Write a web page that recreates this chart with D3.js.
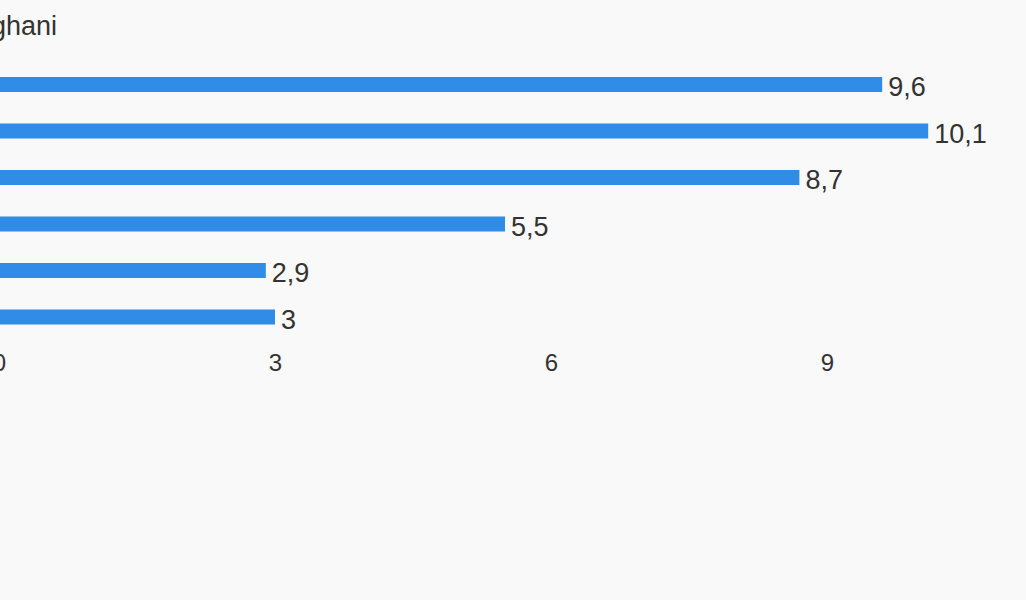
<!DOCTYPE html>
<html>
<head>
<meta charset="utf-8">
<script src="https://cdn.jsdelivr.net/npm/d3@7"></script>
<style>
  html, body { margin: 0; padding: 0; background: #f9f9f9; }
  svg { display: block; font-family: "Liberation Sans", Arial, sans-serif; }
</style>
</head>
<body>
<svg id="chart" width="1026" height="600"></svg>
<script>
const title = "Afghani";
const categories = ["A", "B", "C", "D", "E", "F"];
const values = [9.6, 10.1, 8.7, 5.5, 2.9, 3];
const valueLabels = ["9,6", "10,1", "8,7", "5,5", "2,9", "3"];
const tickValues = [0, 3, 6, 9];
const tickLabels = ["0", "3", "6", "9"];

const svg = d3.select("#chart");
const W = 1026, H = 600;
svg.append("rect").attr("width", W).attr("height", H).attr("fill", "#f9f9f9");

const x = d3.scaleLinear().domain([0, 10]).range([-1, 919]);
const y = d3.scaleBand().domain(categories).range([61.25, 340.25])
  .paddingInner(0.677).paddingOuter(0.3385);

svg.append("text")
  .attr("x", 57).attr("y", 35)
  .attr("text-anchor", "end")
  .attr("fill", "#333333")
  .style("font-size", "27px")
  .text(title);

svg.append("g").selectAll("rect")
  .data(values)
  .join("rect")
  .attr("x", x(0))
  .attr("y", (d, i) => y(categories[i]))
  .attr("width", d => x(d) - x(0))
  .attr("height", y.bandwidth())
  .attr("fill", "#318ce7");

svg.append("g").selectAll("text")
  .data(values)
  .join("text")
  .attr("x", d => x(d) + 6)
  .attr("y", (d, i) => y(categories[i]) + y.bandwidth() / 2)
  .attr("dy", "0.44em")
  .attr("fill", "#333333")
  .style("font-size", "27px")
  .text((d, i) => valueLabels[i]);

const axis = d3.axisBottom(x)
  .tickValues(tickValues)
  .tickFormat((d, i) => tickLabels[i])
  .tickSize(0)
  .tickPadding(9);

const gAxis = svg.append("g")
  .attr("transform", "translate(0,345)")
  .call(axis);
gAxis.attr("font-size", null).attr("font-family", null);
gAxis.select(".domain").remove();
gAxis.selectAll("text")
  .attr("fill", "#333333")
  .style("font-size", "24px")
  .style("font-family", "'Liberation Sans', Arial, sans-serif");
</script>
</body>
</html>
